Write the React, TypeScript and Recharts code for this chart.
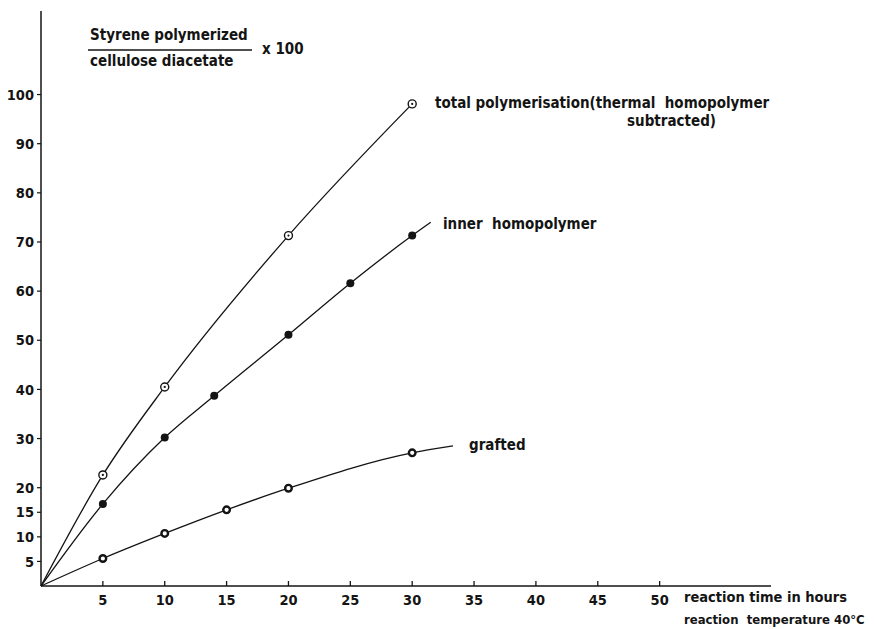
import React from "react";
import { LineChart, Line, XAxis, YAxis } from "recharts";

// reaction time (h) and polymerised styrene / cellulose diacetate x 100
const totalHours = [0, 5, 10, 20, 30];
const totalValues = [0, 22.6, 40.5, 71.3, 98.1];

const innerHours = [0, 5, 10, 14, 20, 25, 30, 31.5];
const innerValues = [0, 16.7, 30.2, 38.7, 51.1, 61.6, 71.3, 74.0];

const graftedHours = [0, 5, 10, 15, 20, 30, 33.3];
const graftedValues = [0, 5.6, 10.7, 15.5, 19.9, 27.1, 28.5];

const xTicks = [5, 10, 15, 20, 25, 30, 35, 40, 45, 50];
const yTicks = [5, 10, 15, 20, 30, 40, 50, 60, 70, 80, 90, 100];

const toRows = (hours: number[], values: number[]) =>
  hours.map((h, i) => ({ hours: h, value: values[i] }));

const totalData = toRows(totalHours, totalValues);
const innerData = toRows(innerHours, innerValues);
const graftedData = toRows(graftedHours, graftedValues);

const INK = "#141414";
const FONT = "'DejaVu Sans Condensed', 'DejaVu Sans', sans-serif";

// markers: skip the origin, and the free end of a curve when it has no measurement
const makeDot = (kind: "open" | "filled" | "ring", lastIndex: number | null) => (props: any) => {
  const { cx, cy, index } = props;
  const key = `${kind}-${index}`;
  if (index === 0 || index === lastIndex || cx == null) return <g key={key} />;
  if (kind === "filled") return <circle key={key} cx={cx} cy={cy} r={4} fill={INK} />;
  if (kind === "open")
    return (
      <g key={key}>
        <circle cx={cx} cy={cy} r={4} fill="#fff" stroke={INK} strokeWidth={1.4} />
        <circle cx={cx} cy={cy} r={1.1} fill={INK} />
      </g>
    );
  return <circle key={key} cx={cx} cy={cy} r={3.3} fill="#fff" stroke={INK} strokeWidth={2.4} />;
};

const XTick = (props: any) => {
  const { x, y, payload } = props;
  return (
    <g>
      <line x1={x} y1={y} x2={x} y2={y - 5} stroke={INK} strokeWidth={1.3} />
      <text x={x} y={y + 19} textAnchor="middle" fill={INK} fontSize={14.5} fontFamily={FONT} fontWeight={700}>
        {payload.value}
      </text>
    </g>
  );
};

const textStyle = { fill: INK, fontSize: 15, fontFamily: FONT, fontWeight: 700, whiteSpace: "pre" as const };

export default function App() {
  return (
    <div style={{ position: "absolute", left: 0, top: 0, width: 874, height: 629, background: "#fff" }}>
      <LineChart width={874} height={629} margin={{ top: 11, right: 103, bottom: 13, left: 0 }}>
        <XAxis
          type="number"
          dataKey="hours"
          domain={[0, 59]}
          ticks={xTicks}
          interval={0}
          height={30}
          tickSize={0}
          tickMargin={0}
          axisLine={{ stroke: INK, strokeWidth: 1.5 }}
          tick={<XTick />}
          allowDuplicatedCategory={false}
        />
        <YAxis
          type="number"
          dataKey="value"
          domain={[0, 117]}
          ticks={yTicks}
          interval={0}
          width={41}
          tickSize={4}
          tickMargin={3}
          axisLine={{ stroke: INK, strokeWidth: 1.5 }}
          tickLine={{ stroke: INK, strokeWidth: 1.2 }}
          tick={{ fill: INK, fontSize: 14.5, fontFamily: FONT, fontWeight: 700 }}
        />
        <Line data={totalData} dataKey="value" type="monotone" stroke={INK} strokeWidth={1.3}
          dot={makeDot("open", null)} activeDot={false} isAnimationActive={false} />
        <Line data={innerData} dataKey="value" type="monotone" stroke={INK} strokeWidth={1.3}
          dot={makeDot("filled", innerData.length - 1)} activeDot={false} isAnimationActive={false} />
        <Line data={graftedData} dataKey="value" type="monotone" stroke={INK} strokeWidth={1.3}
          dot={makeDot("ring", graftedData.length - 1)} activeDot={false} isAnimationActive={false} />
      </LineChart>
      <svg width={874} height={629} style={{ position: "absolute", left: 0, top: 0, pointerEvents: "none" }}>
        <text x={90} y={40} style={textStyle}>Styrene polymerized</text>
        <line x1={88} y1={50} x2={252} y2={50} stroke={INK} strokeWidth={1.5} />
        <text x={90} y={66} style={textStyle}>cellulose diacetate</text>
        <text x={262} y={54} style={textStyle}>x 100</text>

        <text x={435} y={108} style={textStyle}>total polymerisation(thermal  homopolymer</text>
        <text x={716} y={126} textAnchor="end" style={textStyle}>subtracted)</text>
        <text x={443} y={229} style={textStyle}>inner  homopolymer</text>
        <text x={469} y={450} style={textStyle}>grafted</text>

        <text x={684} y={602} style={{ ...textStyle, fontSize: 14.5 }}>reaction time in hours</text>
        <text x={684} y={624} style={{ ...textStyle, fontSize: 13 }}>reaction  temperature 40°C</text>
      </svg>
    </div>
  );
}
